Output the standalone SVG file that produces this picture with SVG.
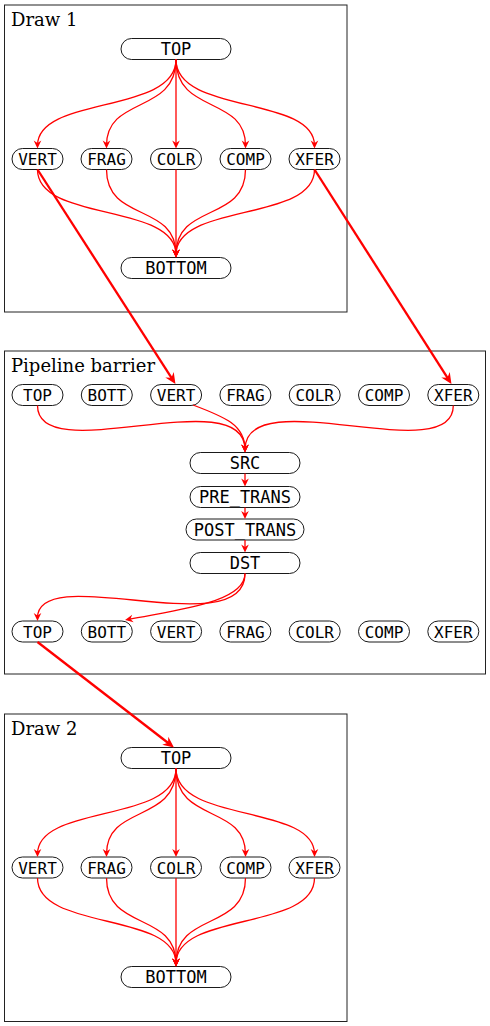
<svg xmlns="http://www.w3.org/2000/svg" width="490" height="1026" viewBox="0 0 490 1026">
<style>
.box{fill:none;stroke:#222;stroke-width:1}
.title{font-family:"DejaVu Serif",serif;font-size:18px;fill:#000}
.n rect{fill:#fff;stroke:#000;stroke-width:0.9}
.n text{font-family:"DejaVu Sans Mono",monospace;font-size:17px;text-anchor:middle;fill:#000}
.s text{font-size:16px}
.e{fill:none;stroke:#f00;stroke-width:1.3;marker-end:url(#ah)}
.t{fill:none;stroke:#f00;stroke-width:2.3;marker-end:url(#aht)}
</style>
<defs>
<marker id="ah" markerUnits="userSpaceOnUse" orient="auto" refX="-3" refY="0" markerWidth="20" markerHeight="20" style="overflow:visible">
<path d="M0,0 L-8,-3.8 L-5.5,0 L-8,3.8 Z" fill="#f00"/>
</marker>
<marker id="aht" markerUnits="userSpaceOnUse" orient="auto" refX="-4" refY="0" markerWidth="20" markerHeight="20" style="overflow:visible">
<path d="M0,0 L-11,-5 L-7.5,0 L-11,5 Z" fill="#f00"/>
</marker>
</defs>

<g id="draw1">
<rect class="box" x="4.5" y="5" width="342.5" height="307"/>
<text class="title" x="11" y="26">Draw 1</text>
</g>
<g id="d1-top" class="n"><rect x="121" y="38.5" width="110" height="21" rx="10.5"/><text x="176" y="55">TOP</text></g>
<g id="d1-vert" class="n s"><rect x="12" y="148.5" width="51" height="21" rx="10.5"/><text x="37.5" y="165">VERT</text></g>
<g id="d1-frag" class="n s"><rect x="81" y="148.5" width="51" height="21" rx="10.5"/><text x="106.5" y="165">FRAG</text></g>
<g id="d1-colr" class="n s"><rect x="150.5" y="148.5" width="51" height="21" rx="10.5"/><text x="176" y="165">COLR</text></g>
<g id="d1-comp" class="n s"><rect x="220" y="148.5" width="51" height="21" rx="10.5"/><text x="245.5" y="165">COMP</text></g>
<g id="d1-xfer" class="n s"><rect x="289" y="148.5" width="51" height="21" rx="10.5"/><text x="314.5" y="165">XFER</text></g>
<g id="d1-bottom" class="n"><rect x="121" y="257.5" width="110" height="21" rx="10.5"/><text x="176" y="274">BOTTOM</text></g>

<g id="barrier">
<rect class="box" x="4.5" y="351" width="481" height="323"/>
<text class="title" x="11" y="372">Pipeline barrier</text>
</g>
<g id="pb-top" class="n s"><rect x="12" y="384.5" width="51" height="21" rx="10.5"/><text x="37.5" y="401">TOP</text></g>
<g id="pb-bott" class="n s"><rect x="81.3" y="384.5" width="51" height="21" rx="10.5"/><text x="106.8" y="401">BOTT</text></g>
<g id="pb-vert" class="n s"><rect x="150.6" y="384.5" width="51" height="21" rx="10.5"/><text x="176.1" y="401">VERT</text></g>
<g id="pb-frag" class="n s"><rect x="219.9" y="384.5" width="51" height="21" rx="10.5"/><text x="245.4" y="401">FRAG</text></g>
<g id="pb-colr" class="n s"><rect x="289.2" y="384.5" width="51" height="21" rx="10.5"/><text x="314.7" y="401">COLR</text></g>
<g id="pb-comp" class="n s"><rect x="358.5" y="384.5" width="51" height="21" rx="10.5"/><text x="384" y="401">COMP</text></g>
<g id="pb-xfer" class="n s"><rect x="427.8" y="384.5" width="51" height="21" rx="10.5"/><text x="453.3" y="401">XFER</text></g>
<g id="pb-src" class="n"><rect x="190" y="452.5" width="110" height="21" rx="10.5"/><text x="245" y="469">SRC</text></g>
<g id="pb-pre" class="n"><rect x="190" y="486.5" width="110" height="21" rx="10.5"/><text x="245" y="503">PRE_TRANS</text></g>
<g id="pb-post" class="n"><rect x="186" y="519" width="118" height="21" rx="10.5"/><text x="245" y="535.5">POST_TRANS</text></g>
<g id="pb-dst" class="n"><rect x="190" y="552.5" width="110" height="21" rx="10.5"/><text x="245" y="569">DST</text></g>
<g id="pb-top2" class="n s"><rect x="12" y="621" width="51" height="21" rx="10.5"/><text x="37.5" y="637.5">TOP</text></g>
<g id="pb-bott2" class="n s"><rect x="81.3" y="621" width="51" height="21" rx="10.5"/><text x="106.8" y="637.5">BOTT</text></g>
<g id="pb-vert2" class="n s"><rect x="150.6" y="621" width="51" height="21" rx="10.5"/><text x="176.1" y="637.5">VERT</text></g>
<g id="pb-frag2" class="n s"><rect x="219.9" y="621" width="51" height="21" rx="10.5"/><text x="245.4" y="637.5">FRAG</text></g>
<g id="pb-colr2" class="n s"><rect x="289.2" y="621" width="51" height="21" rx="10.5"/><text x="314.7" y="637.5">COLR</text></g>
<g id="pb-comp2" class="n s"><rect x="358.5" y="621" width="51" height="21" rx="10.5"/><text x="384" y="637.5">COMP</text></g>
<g id="pb-xfer2" class="n s"><rect x="427.8" y="621" width="51" height="21" rx="10.5"/><text x="453.3" y="637.5">XFER</text></g>

<g id="draw2">
<rect class="box" x="4.5" y="714" width="342.5" height="307.5"/>
<text class="title" x="11" y="735">Draw 2</text>
</g>
<g id="d2-top" class="n"><rect x="121" y="747.5" width="110" height="21" rx="10.5"/><text x="176" y="764">TOP</text></g>
<g id="d2-vert" class="n s"><rect x="12" y="857" width="51" height="21" rx="10.5"/><text x="37.5" y="873.5">VERT</text></g>
<g id="d2-frag" class="n s"><rect x="81" y="857" width="51" height="21" rx="10.5"/><text x="106.5" y="873.5">FRAG</text></g>
<g id="d2-colr" class="n s"><rect x="150.5" y="857" width="51" height="21" rx="10.5"/><text x="176" y="873.5">COLR</text></g>
<g id="d2-comp" class="n s"><rect x="220" y="857" width="51" height="21" rx="10.5"/><text x="245.5" y="873.5">COMP</text></g>
<g id="d2-xfer" class="n s"><rect x="289" y="857" width="51" height="21" rx="10.5"/><text x="314.5" y="873.5">XFER</text></g>
<g id="d2-bottom" class="n"><rect x="121" y="966.5" width="110" height="21" rx="10.5"/><text x="176" y="983">BOTTOM</text></g>

<g id="connectors">
<path class="e" d="M176,59.5 C176,114.5 37.5,95.5 37.5,145.5"/>
<path class="e" d="M176,59.5 C176,114.5 106.5,95.5 106.5,145.5"/>
<path class="e" d="M176,59.5 L176,145.5"/>
<path class="e" d="M176,59.5 C176,114.5 245.5,95.5 245.5,145.5"/>
<path class="e" d="M176,59.5 C176,114.5 314.5,95.5 314.5,145.5"/>
<path class="e" d="M37.5,169.5 C37.5,222.5 176,202.5 176,254.5"/>
<path class="e" d="M106.5,169.5 C106.5,222.5 176,202.5 176,254.5"/>
<path class="e" d="M176,169.5 L176,254.5"/>
<path class="e" d="M245.5,169.5 C245.5,222.5 176,202.5 176,254.5"/>
<path class="e" d="M314.5,169.5 C314.5,222.5 176,202.5 176,254.5"/>

<path class="t" d="M37.5,169.5 L173.3,380.6"/>
<path class="t" d="M314.5,169.5 L449.3,380.6"/>

<path class="e" d="M37.5,405.5 C37.5,470 245,380 245,449.5"/>
<path class="e" d="M193,405 C225,417 245,425 245,449.5"/>
<path class="e" d="M453.3,405.5 C453.3,470 245,380 245,449.5"/>
<path class="e" d="M245,473.5 L245,483.5"/>
<path class="e" d="M245,507.5 L245,516"/>
<path class="e" d="M245,540 L245,549.5"/>
<path class="e" d="M245,573.5 C245,645 37.5,560 37.5,618"/>
<path class="e" d="M245,573.5 C245,603 175,610 128,619.5"/>

<path class="t" d="M37.5,642 L170.8,745"/>

<path class="e" d="M176,768.5 C176,823.5 37.5,804 37.5,854"/>
<path class="e" d="M176,768.5 C176,823.5 106.5,804 106.5,854"/>
<path class="e" d="M176,768.5 L176,854"/>
<path class="e" d="M176,768.5 C176,823.5 245.5,804 245.5,854"/>
<path class="e" d="M176,768.5 C176,823.5 314.5,804 314.5,854"/>
<path class="e" d="M37.5,878 C37.5,931 176,911.5 176,963.5"/>
<path class="e" d="M106.5,878 C106.5,931 176,911.5 176,963.5"/>
<path class="e" d="M176,878 L176,963.5"/>
<path class="e" d="M245.5,878 C245.5,931 176,911.5 176,963.5"/>
<path class="e" d="M314.5,878 C314.5,931 176,911.5 176,963.5"/>
</g>
</svg>
